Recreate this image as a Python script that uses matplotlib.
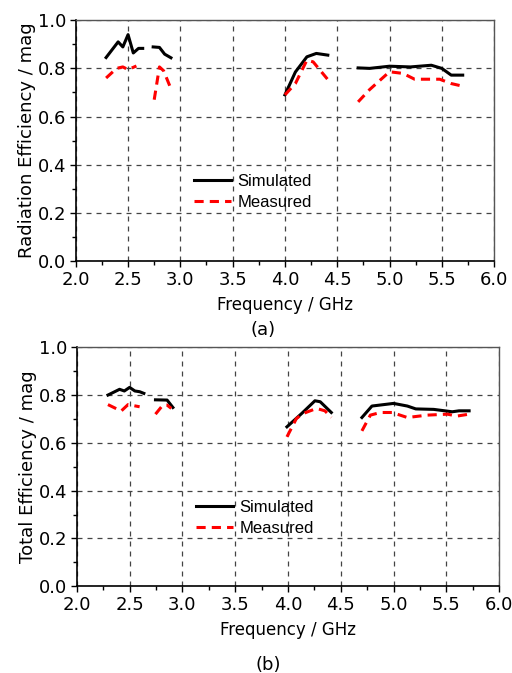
import matplotlib.pyplot as plt
import numpy as np

# Radiation efficiency (a): each band is a separate segment
rad_sim_f = [[2.29, 2.405, 2.45, 2.50, 2.55, 2.60, 2.64],
             [2.74, 2.80, 2.85, 2.91],
             [4.00, 4.10, 4.21, 4.30, 4.41],
             [4.70, 4.81, 5.00, 5.20, 5.40, 5.50, 5.59, 5.70]]
rad_sim_v = [[0.845, 0.91, 0.889, 0.94, 0.864, 0.883, 0.883],
             [0.889, 0.887, 0.859, 0.844],
             [0.69, 0.785, 0.848, 0.862, 0.855],
             [0.802, 0.80, 0.809, 0.806, 0.813, 0.80, 0.772, 0.772]]
rad_meas_f = [[2.29, 2.39, 2.45, 2.50, 2.58],
              [2.75, 2.80, 2.84, 2.90],
              [4.00, 4.10, 4.21, 4.27, 4.415],
              [4.70, 4.81, 4.91, 5.00, 5.13, 5.24, 5.48, 5.59, 5.69]]
rad_meas_v = [[0.76, 0.80, 0.806, 0.795, 0.81],
              [0.67, 0.806, 0.79, 0.726],
              [0.69, 0.737, 0.834, 0.827, 0.751],
              [0.661, 0.712, 0.751, 0.786, 0.779, 0.755, 0.755, 0.737, 0.727]]

# Total efficiency (b)
tot_sim_f = [[2.295, 2.405, 2.45, 2.50, 2.55, 2.595, 2.635],
             [2.745, 2.855, 2.91],
             [3.99, 4.13, 4.255, 4.305, 4.41],
             [4.70, 4.795, 5.00, 5.13, 5.21, 5.38, 5.555, 5.62, 5.715]]
tot_sim_v = [[0.80, 0.824, 0.817, 0.832, 0.817, 0.814, 0.807],
             [0.78, 0.779, 0.748],
             [0.667, 0.723, 0.776, 0.772, 0.727],
             [0.706, 0.754, 0.765, 0.754, 0.742, 0.740, 0.730, 0.734, 0.734]]
tot_meas_f = [[2.295, 2.42, 2.485, 2.595],
              [2.745, 2.815, 2.855, 2.895],
              [3.99, 4.08, 4.145, 4.27, 4.35, 4.41],
              [4.70, 4.78, 4.875, 4.985, 5.13, 5.32, 5.51, 5.60, 5.715]]
tot_meas_v = [[0.76, 0.733, 0.76, 0.751],
              [0.72, 0.758, 0.758, 0.744],
              [0.625, 0.702, 0.723, 0.744, 0.734, 0.706],
              [0.65, 0.716, 0.727, 0.727, 0.706, 0.716, 0.72, 0.712, 0.72]]

fig = plt.figure(figsize=(5.12, 6.73), dpi=100)
ax1 = fig.add_axes([0.148, 0.612, 0.817, 0.358])
ax2 = fig.add_axes([0.150, 0.129, 0.825, 0.355])

legend_font = {'family': 'Liberation Sans', 'size': 12}


def draw(ax, sf, sv, mf, mv, ylabel, leg_pos):
    for k in range(len(sf)):
        ax.plot(sf[k], sv[k], color='black', lw=2.2,
                label='Simulated' if k == 0 else None, zorder=3)
    for k in range(len(mf)):
        ax.plot(mf[k], mv[k], color='red', lw=2.2, dashes=(3.0, 2.0),
                label='Measured' if k == 0 else None, zorder=3)
    ax.set_xlim(2.0, 6.0)
    ax.set_ylim(0.0, 1.0)
    ax.set_xticks(np.arange(2.0, 6.01, 0.5))
    ax.set_yticks(np.arange(0.0, 1.01, 0.2))
    ax.set_xticks(np.arange(2.25, 6.0, 0.5), minor=True)
    ax.set_yticks(np.arange(0.1, 1.0, 0.2), minor=True)
    ax.xaxis.set_major_formatter(plt.FormatStrFormatter('%.1f'))
    ax.yaxis.set_major_formatter(plt.FormatStrFormatter('%.1f'))
    ax.tick_params(which='major', direction='out', length=4, width=1,
                   labelsize=13, pad=3, top=False, right=False)
    ax.tick_params(which='minor', direction='out', length=3, width=1,
                   top=False, right=False)
    ax.grid(True, which='major', color='#444444', linestyle=(0, (4, 4)), lw=0.9)
    for side in ['left', 'bottom']:
        ax.spines[side].set_color('black')
        ax.spines[side].set_linewidth(1.2)
    for side in ['top', 'right']:
        ax.spines[side].set_color('#555555')
        ax.spines[side].set_linewidth(1.0)
    ax.set_xlabel('Frequency / GHz', fontsize=12, labelpad=5)
    ax.set_ylabel(ylabel, fontsize=13, labelpad=1)
    ax.legend(loc='center left', bbox_to_anchor=leg_pos, frameon=False,
              prop=legend_font, handlelength=2.2, handletextpad=0.4,
              labelspacing=0.35, borderpad=0.2)


draw(ax1, rad_sim_f, rad_sim_v, rad_meas_f, rad_meas_v,
     'Radiation Efficiency / mag', (0.255, 0.286))
draw(ax2, tot_sim_f, tot_sim_v, tot_meas_f, tot_meas_v,
     'Total Efficiency / mag', (0.255, 0.285))

fig.text(0.514, 0.509, '(a)', ha='center', va='center', fontsize=13)
fig.text(0.524, 0.012, '(b)', ha='center', va='center', fontsize=13)

fig.savefig('out.png', dpi=100)
